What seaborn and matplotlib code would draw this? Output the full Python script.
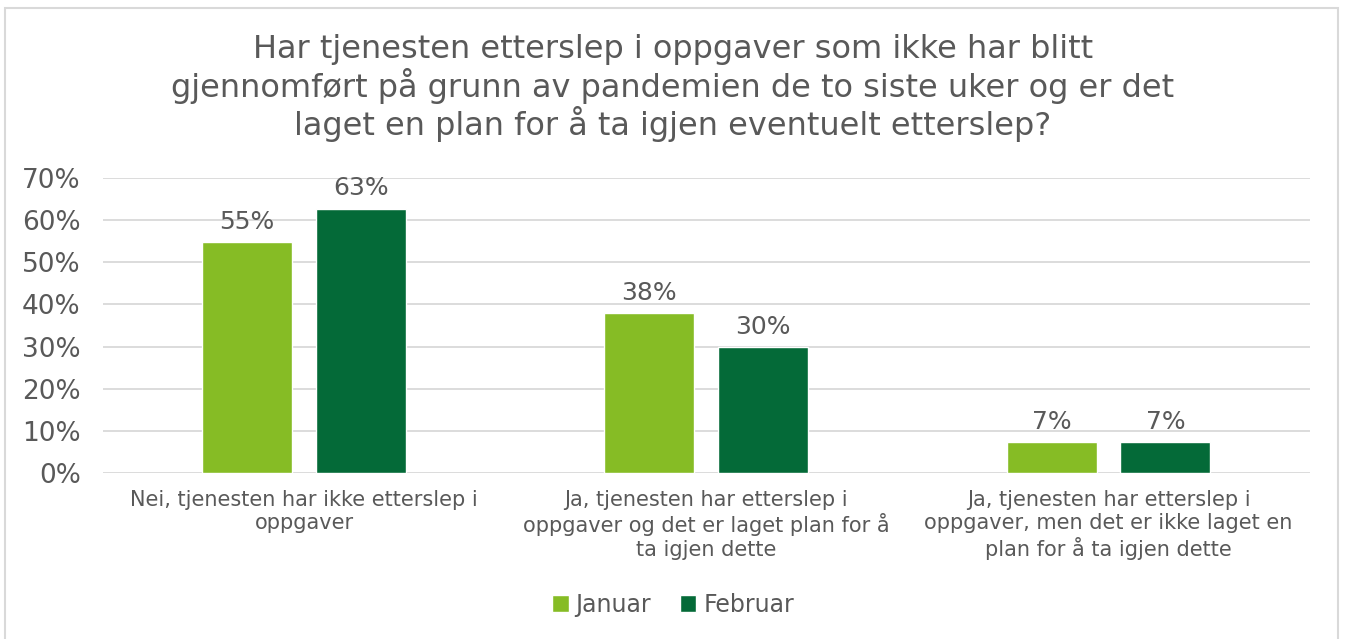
import pandas as pd
import seaborn as sns
import matplotlib.pyplot as plt
from matplotlib.patches import Rectangle
from matplotlib.ticker import PercentFormatter

TITLE = ('Har tjenesten etterslep i oppgaver som ikke har blitt\n'
         'gjennomført på grunn av pandemien de to siste uker og er det\n'
         'laget en plan for å ta igjen eventuelt etterslep?')

categories = [
    'Nei, tjenesten har ikke etterslep i\noppgaver',
    'Ja, tjenesten har etterslep i\noppgaver og det er laget plan for å\nta igjen dette',
    'Ja, tjenesten har etterslep i\noppgaver, men det er ikke laget en\nplan for å ta igjen dette',
]
januar = [54.7, 38.0, 7.3]
februar = [62.7, 29.9, 7.3]
januar_labels = ['55%', '38%', '7%']
februar_labels = ['63%', '30%', '7%']

TEXT = '#595959'
COLORS = {'Januar': '#86BC25', 'Februar': '#046A38'}


def main():
    df = pd.DataFrame({
        'kategori': categories * 2,
        'maaned': ['Januar'] * 3 + ['Februar'] * 3,
        'andel': januar + februar,
    })

    sns.set_style('white')
    plt.rcParams['font.family'] = ['DejaVu Sans']

    fig = plt.figure(figsize=(13.46, 6.39), dpi=100)
    ax = fig.add_axes([0.0765, 0.2598, 0.8965, 0.4616])

    sns.barplot(data=df, x='kategori', y='andel', hue='maaned',
                palette=COLORS, width=0.566, gap=0.21, ax=ax,
                saturation=1, errorbar=None, legend=True)

    for container, labels in zip(ax.containers, [januar_labels, februar_labels]):
        ax.bar_label(container, labels=labels, padding=6,
                     fontsize=18, color=TEXT)

    ax.set_ylim(0, 70)
    ax.set_xlim(-0.5, 2.5)
    ax.set_yticks(range(0, 71, 10))
    ax.yaxis.set_major_formatter(PercentFormatter(decimals=0))
    ax.yaxis.grid(True, color='#D9D9D9', linewidth=1.3)
    ax.set_axisbelow(True)
    sns.despine(ax=ax, left=True, bottom=True, top=True, right=True)
    ax.tick_params(axis='y', labelsize=19, colors=TEXT, length=0, pad=16)
    ax.tick_params(axis='x', labelsize=15, colors=TEXT, length=0, pad=12)
    for lbl in ax.get_xticklabels():
        lbl.set_linespacing(1.2)
    ax.set_xlabel('')
    ax.set_ylabel('')

    ax.legend(loc='center', bbox_to_anchor=(0.5, 1 - 605 / 639),
              bbox_transform=fig.transFigure, ncol=2, frameon=False,
              fontsize=17, labelcolor=TEXT, handlelength=0.7,
              handleheight=0.7, handletextpad=0.3, columnspacing=1.2)

    fig.text(0.5, 1 - 88 / 639, TITLE, ha='center', va='center',
             fontsize=23, color=TEXT, linespacing=1.1)

    fig.patches.append(Rectangle((5 / 1346, -0.01), 1333 / 1346, 1 - 8 / 639 + 0.01,
                                 transform=fig.transFigure, fill=False,
                                 edgecolor='#D9D9D9', linewidth=1.5))

    fig.savefig('out.png', dpi=100)
    plt.close(fig)


main()
